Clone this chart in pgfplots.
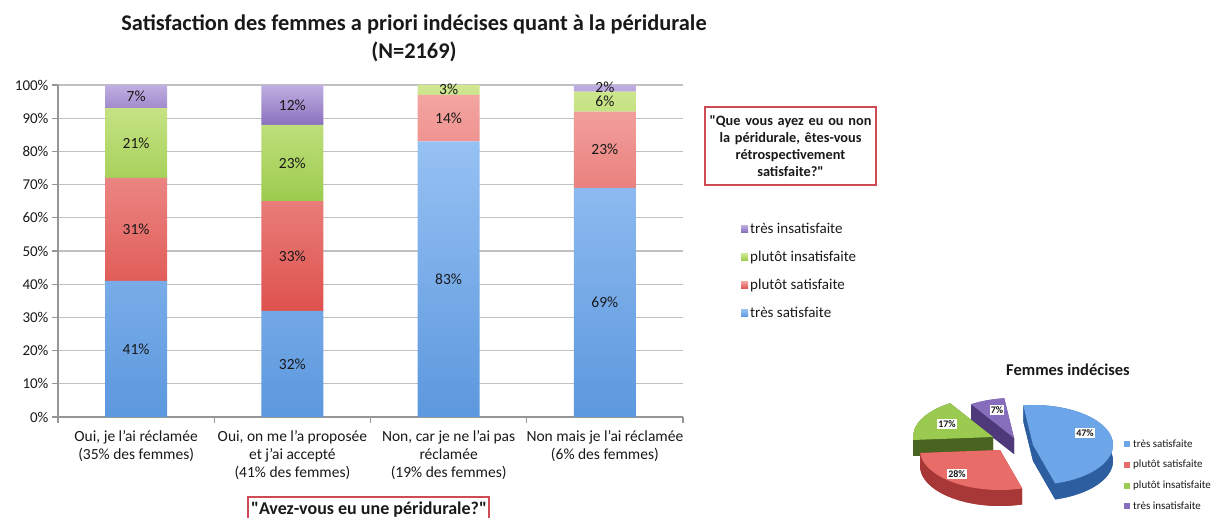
\documentclass[border=0pt]{standalone}
\usepackage{pgfplots}
\pgfplotsset{compat=1.18}
\usepackage{fontspec}
\setmainfont{Carlito}
\definecolor{cblue}{RGB}{92,152,222}
\definecolor{cbluel}{RGB}{150,193,243}
\definecolor{cred}{RGB}{222,82,78}
\definecolor{credl}{RGB}{243,165,162}
\definecolor{cgreen}{RGB}{156,203,78}
\definecolor{cgreenl}{RGB}{208,232,145}
\definecolor{cpurple}{RGB}{138,112,188}
\definecolor{cpurplel}{RGB}{192,175,226}
\definecolor{boxred}{RGB}{205,75,85}
\definecolor{gridgray}{RGB}{192,192,192}
\definecolor{axgray}{RGB}{150,150,150}
\definecolor{txt}{RGB}{25,25,25}
% pie colours
\definecolor{pblue}{RGB}{108,166,232}
\definecolor{pblues}{RGB}{45,95,160}
\definecolor{pred}{RGB}{232,108,104}
\definecolor{preds}{RGB}{168,55,55}
\definecolor{pgreen}{RGB}{155,202,80}
\definecolor{pgreens}{RGB}{72,100,32}
\definecolor{ppurple}{RGB}{135,110,188}
\definecolor{ppurples}{RGB}{78,58,122}

\def\prx{80pt}
\def\pry{40pt}
\def\pdep{16pt}
\newcommand\pieslice[6]{%
 \fill[#6] ([yshift=-\pdep]axis cs:#1,#2) -- ++({cos(#3)*\prx},{sin(#3)*\pry}) arc[start angle=#3,end angle=#4,x radius=\prx,y radius=\pry] -- cycle;
 \fill[#6] (axis cs:#1,#2) -- ++({cos(#3)*\prx},{sin(#3)*\pry}) -- ++(0pt,-\pdep) -- ([yshift=-\pdep]axis cs:#1,#2) -- cycle;
 \fill[#6] (axis cs:#1,#2) -- ++({cos(#4)*\prx},{sin(#4)*\pry}) -- ++(0pt,-\pdep) -- ([yshift=-\pdep]axis cs:#1,#2) -- cycle;
 \fill[#6] (axis cs:#1,#2) ++({cos(#3)*\prx},{sin(#3)*\pry}) arc[start angle=#3,end angle=#4,x radius=\prx,y radius=\pry] -- ++(0pt,-\pdep) arc[start angle=#4,end angle=#3,x radius=\prx,y radius=\pry] -- cycle;
 \fill[#5] (axis cs:#1,#2) -- ++({cos(#3)*\prx},{sin(#3)*\pry}) arc[start angle=#3,end angle=#4,x radius=\prx,y radius=\pry] -- cycle;
}
\newcommand\blab[3]{\node[font=\fontsize{15.5}{18}\selectfont, text=txt] at (axis cs:#1,#2) {#3\%};}
\pgfplotsset{mainframe/.style={
  at={(58pt,101pt)}, anchor=south west,
  scale only axis, width=625pt, height=332pt,
  xmin=-0.5, xmax=3.5, ymin=0, ymax=100}}

\begin{document}
\begin{tikzpicture}[font=\fontsize{15}{18}\selectfont, text=txt]
\useasboundingbox (0,0) rectangle (1217pt,518pt);
% pie values (percent)
\def\vA{47}\def\vB{28}\def\vC{17}\def\vD{7}
\pgfmathsetmacro\tot{\vA+\vB+\vC+\vD}
\pgfmathsetmacro\aA{97}
\pgfmathsetmacro\aB{\aA-\vA*(360/\tot)}
\pgfmathsetmacro\aC{\aB-\vB*(360/\tot)}
\pgfmathsetmacro\aD{\aC-\vC*(360/\tot)}
\pgfmathsetmacro\aE{\aD-\vD*(360/\tot)}

\begin{axis}[
  mainframe,
  ybar stacked, bar width=62pt,
  axis x line*=bottom, axis y line*=left,
  axis line style={axgray, line width=1.2pt},
  tick style={axgray, line width=1.2pt},
  tick align=outside, major tick length=6pt,
  ytick={0,10,...,100},
  yticklabel={\pgfmathprintnumber{\tick}\%},
  /pgf/number format/assume math mode=true,
  ymajorgrids, grid style={gridgray, line width=1.3pt},
  xtick={-0.5,0.5,1.5,2.5,3.5},
  x tick label as interval,
  xticklabels={{Oui, je l’ai réclamée\\(35\% des femmes)},
               {Oui, on me l’a proposée\\et j’ai accepté\\(41\% des femmes)},
               {Non, car je ne l’ai pas\\réclamée\\(19\% des femmes)},
               {Non mais je l’ai réclamée\\(6\% des femmes)}},
  xticklabel style={align=center, font=\fontsize{15.5}{18}\selectfont, text=txt, yshift=-4pt},
  yticklabel style={font=\fontsize{15}{18}\selectfont, text=txt},
  reverse legend,
  legend style={at={(1.088,0.598)}, anchor=north west, draw=none, fill=none,
     font=\fontsize{15}{18}\selectfont, row sep=12.3pt, text=txt},
  legend cell align=left,
  legend image code/.code={\fill[#1] (0pt,-3.5pt) rectangle (7pt,3.5pt);},
]
\addplot[draw=none, top color=cbluel, bottom color=cblue]
  coordinates {(0,41) (1,32) (2,83) (3,69)};
\addplot[draw=none, top color=credl, bottom color=cred]
  coordinates {(0,31) (1,33) (2,14) (3,23)};
\addplot[draw=none, top color=cgreenl, bottom color=cgreen]
  coordinates {(0,21) (1,23) (2,3) (3,6)};
\addplot[draw=none, top color=cpurplel, bottom color=cpurple]
  coordinates {(0,7) (1,12) (2,0) (3,2)};
\legend{très satisfaite, plutôt satisfaite, plutôt insatisfaite, très insatisfaite}
\end{axis}

% same frame, drawn on top: segment labels (centre of each segment)
\begin{axis}[mainframe, hide axis, clip=false]
\blab{0}{20.5}{41}\blab{0}{56.5}{31}\blab{0}{82.5}{21}\blab{0}{96.5}{7}
\blab{1}{16}{32}\blab{1}{48.5}{33}\blab{1}{76.5}{23}\blab{1}{94}{12}
\blab{2}{41.5}{83}\blab{2}{90}{14}\blab{2}{98.6}{3}
\blab{3}{34.5}{69}\blab{3}{80.5}{23}\blab{3}{95.2}{6}\blab{3}{99.4}{2}
\end{axis}

% overlay axis (1 unit = 1pt) for titles, boxes and the pie
\begin{axis}[
  at={(0pt,0pt)}, anchor=south west,
  scale only axis, width=1217pt, height=518pt,
  xmin=0, xmax=1217, ymin=0, ymax=518,
  hide axis, clip=false]
\node[font=\bfseries\fontsize{22.4}{28}\selectfont, align=center] at (axis cs:414,480)
  {Satisfaction des femmes a priori indécises quant à la péridurale\\(N=2169)};
\node[draw=boxred, line width=1.3pt, align=center, inner sep=0pt,
      text width=170pt, minimum width=171pt, minimum height=78pt,
      font=\bfseries\fontsize{14.3}{17.2}\selectfont] at (axis cs:790.5,372)
  {\textquotedbl Que vous ayez eu ou non\\la péridurale, êtes-vous\\rétrospectivement\\satisfaite?\textquotedbl};
\draw[boxred, line width=1.3pt] (axis cs:248,-10) rectangle (axis cs:489,21);
\node[font=\bfseries\fontsize{18}{22}\selectfont, anchor=base, inner sep=0pt] at (axis cs:369,3.8)
  {\textquotedbl Avez-vous eu une péridurale?\textquotedbl};
% pie
\node[font=\bfseries\fontsize{16.5}{20}\selectfont] at (axis cs:1068,148) {Femmes indécises};
\pieslice{1014}{80}{\aD}{\aE}{ppurple}{ppurples}
\pieslice{993}{81}{\aC}{\aD}{pgreen}{pgreens}
\pieslice{1000}{68}{\aB}{\aC}{pred}{preds}
\pieslice{1033}{73}{\aA}{\aB}{pblue}{pblues}
\node[fill=white, inner sep=1.2pt, font=\bfseries\fontsize{10}{12}\selectfont] at (axis cs:1085,85) {47\%};
\node[fill=white, inner sep=1.2pt, font=\bfseries\fontsize{10}{12}\selectfont] at (axis cs:957,44) {28\%};
\node[fill=white, inner sep=1.2pt, font=\bfseries\fontsize{10}{12}\selectfont] at (axis cs:947,94) {17\%};
\node[fill=white, inner sep=1.2pt, font=\bfseries\fontsize{10}{12}\selectfont] at (axis cs:997,108) {7\%};
% pie legend
\fill[pblue] (axis cs:1124,71) rectangle (axis cs:1130,77);
\node[anchor=west, inner sep=0pt, font=\fontsize{11}{13}\selectfont] at (axis cs:1133,74) {très satisfaite};
\fill[pred] (axis cs:1124,50) rectangle (axis cs:1130,56);
\node[anchor=west, inner sep=0pt, font=\fontsize{11}{13}\selectfont] at (axis cs:1133,53) {plutôt satisfaite};
\fill[pgreen] (axis cs:1124,29) rectangle (axis cs:1130,35);
\node[anchor=west, inner sep=0pt, font=\fontsize{11}{13}\selectfont] at (axis cs:1133,32) {plutôt insatisfaite};
\fill[ppurple] (axis cs:1124,9) rectangle (axis cs:1130,15);
\node[anchor=west, inner sep=0pt, font=\fontsize{11}{13}\selectfont] at (axis cs:1133,12) {très insatisfaite};
\end{axis}
\end{tikzpicture}
\end{document}
